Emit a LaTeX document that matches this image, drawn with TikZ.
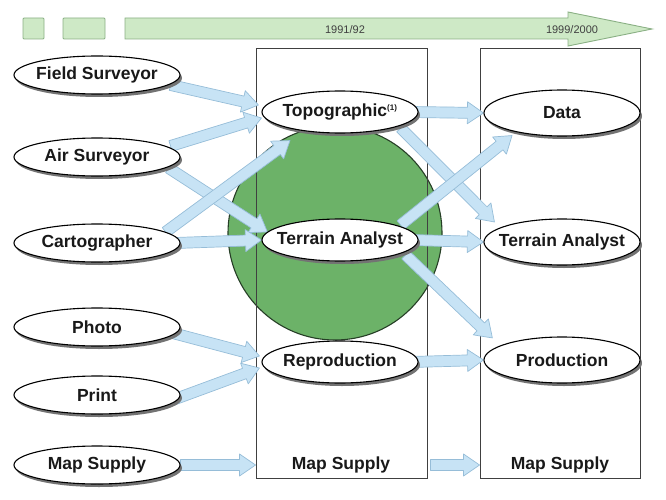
\documentclass[tikz,border=0pt]{standalone}
\usepackage{fontspec}
\setmainfont{Liberation Sans}
\usetikzlibrary{calc,shapes.geometric,shadows}

\definecolor{flowfill}{RGB}{199,227,245}
\definecolor{flowline}{RGB}{150,189,216}
\definecolor{barfill}{RGB}{206,233,198}
\definecolor{barline}{RGB}{138,176,132}
\definecolor{hubgreen}{RGB}{108,178,104}
\definecolor{hubline}{RGB}{38,62,38}

\pgfdeclarelayer{back}
\pgfdeclarelayer{flows}
\pgfsetlayers{back,flows,main}

% fat arrow from #1 to #2 (both given as coordinates)
\newcommand\flowarrow[2]{%
  \path #1 coordinate (fa-s) #2 coordinate (fa-e);
  \path let \p1=($(fa-e)-(fa-s)$) in
    \pgfextra{\pgfmathsetmacro\flowang{atan2(\y1,\x1)}%
      \pgfmathsetmacro\flowlen{veclen(\x1,\y1)}%
      \global\let\flowang\flowang\global\let\flowlen\flowlen};
  \draw[flow,shift={(fa-s)},rotate=\flowang]
    (0,-5.5) -- (\flowlen-16,-5.5) -- (\flowlen-16,-11) -- (\flowlen,0)
    -- (\flowlen-16,11) -- (\flowlen-16,5.5) -- (0,5.5) -- cycle;
}

\begin{document}
\begin{tikzpicture}[x=1pt,y=-1pt,
  blob/.style={ellipse,draw=black,line width=1.1pt,fill=white,
    inner xsep=-30pt,inner ysep=0pt,
    text=black!90,font=\bfseries\fontsize{17.5}{19}\selectfont,
    drop shadow={shadow xshift=2pt,shadow yshift=-3pt,fill=black!55,opacity=1}},
  srcnode/.style={blob,minimum width=166pt,minimum height=38pt},
  midnode/.style={blob,minimum width=156pt,minimum height=42pt},
  outnode/.style={blob,minimum width=156pt,minimum height=46pt},
  coltext/.style={text=black!90,font=\bfseries\fontsize{17.5}{19}\selectfont},
  colbox/.style={draw=black!75,line width=0.9pt,inner sep=0pt},
  flow/.style={draw=flowline,fill=flowfill,line width=0.7pt,line join=round},
  bar/.style={draw=barline,fill=barfill,line width=0.9pt},
  yeartext/.style={text=black!75,font=\fontsize{11}{12}\selectfont}]
  \useasboundingbox (0,0) rectangle (666,500);

  % time line
  \draw[bar,rounded corners=1pt] (23,18) rectangle (44,39);
  \draw[bar,rounded corners=1pt] (63,18) rectangle (105,39);
  \draw[bar] (125,18) -- (568,18) -- (568,12) -- (652,29) -- (568,46)
    -- (568,39) -- (125,39) -- cycle;
  \node[yeartext] (yr1) at (345,30) {1991/92};
  \node[yeartext] (yr2) at (572,30) {1999/2000};

  \begin{pgfonlayer}{back}
    \draw[fill=hubgreen,draw=hubline,line width=1.1pt] (335,233) circle (107pt);
    \node[colbox,minimum width=171pt,minimum height=430pt] (midcol) at (341.5,263) {};
    \node[colbox,minimum width=160pt,minimum height=430pt] (rightcol) at (560,263) {};
  \end{pgfonlayer}

  % sources
  \node[srcnode] (field) at (97,75) {Field Surveyor};
  \node[srcnode] (air) at (97,157) {Air Surveyor};
  \node[srcnode] (carto) at (97,243) {Cartographer};
  \node[srcnode] (photo) at (97,327) {Photo};
  \node[srcnode] (print) at (97,395) {Print};
  \node[srcnode] (mapleft) at (97,465) {Map Supply};

  % 1991/92
  \node[midnode] (topo) at (340,112) {Topographic\textsuperscript{\fontsize{8}{8}\selectfont(1)}};
  \node[midnode] (terrA) at (340,240) {Terrain Analyst};
  \node[midnode] (repro) at (340,362) {Reproduction};
  \node[coltext] (mapmid) at (341,465) {Map Supply};

  % 1999/2000
  \node[outnode] (data) at (562,113) {Data};
  \node[outnode] (terrB) at (562,242) {Terrain Analyst};
  \node[outnode] (prod) at (562,360) {Production};
  \node[coltext] (mapright) at (560,465) {Map Supply};

  \begin{pgfonlayer}{flows}
    \flowarrow{($(field.east)+(-10,10)$)}{($(topo.west)+(-3,-7)$)}
    \flowarrow{($(air.east)+(-10,-11)$)}{($(topo.west)+(0,6)$)}
    \flowarrow{($(air.east)+(-12,11)$)}{($(terrA.west)+(6,-8)$)}
    \flowarrow{($(carto.east)+(-15,-11)$)}{($(topo.south)+(-50,7)$)}
    \flowarrow{($(carto.east)+(-5,0)$)}{(terrA.west)}
    \flowarrow{($(photo.east)+(-8,6)$)}{($(repro.west)+(-2,-6)$)}
    \flowarrow{($(print.east)+(-8,5)$)}{($(repro.west)+(-2,6)$)}
    \flowarrow{(mapleft.east)}{(mapleft -| midcol.west)}
    \flowarrow{($(topo.east)+(-8,0)$)}{(data.west)}
    \flowarrow{($(topo.east)+(-18,16)$)}{($(terrB.west)+(11,-20)$)}
    \flowarrow{($(terrA.east)+(-18,-15)$)}{($(data.south)+(-50,-1)$)}
    \flowarrow{($(terrA.east)+(-8,0)$)}{(terrB.west)}
    \flowarrow{($(terrA.east)+(-13,15)$)}{($(prod.west)+(9,-22)$)}
    \flowarrow{($(repro.east)+(-8,0)$)}{(prod.west)}
    \flowarrow{($(mapmid -| midcol.east)+(3,0)$)}{(mapmid -| rightcol.west)}
  \end{pgfonlayer}
\end{tikzpicture}
\end{document}
